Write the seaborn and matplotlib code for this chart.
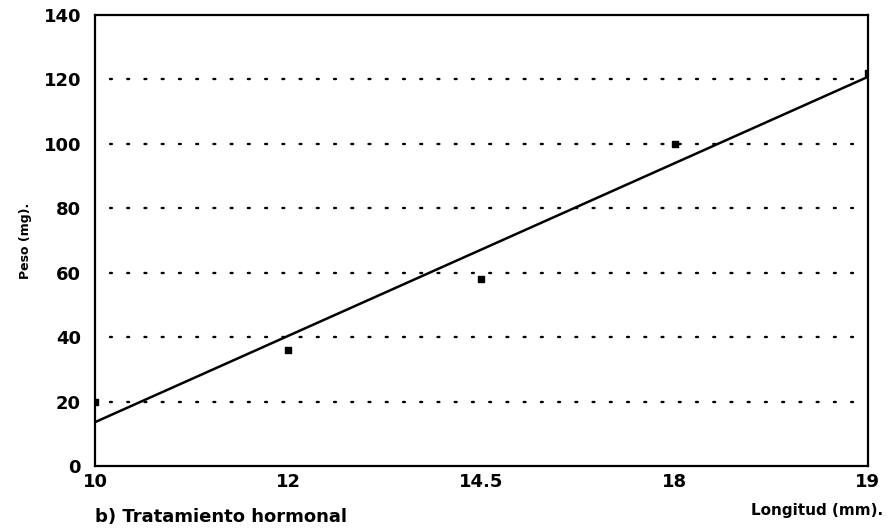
import numpy as np
import pandas as pd
import matplotlib
matplotlib.use("Agg")
import matplotlib.pyplot as plt
import seaborn as sns

# Longitud (mm) categories and measured weights (mg)
longitud = ["10", "12", "14.5", "18", "19"]
peso = [20, 36, 58, 100, 122]
y_ticks = [0, 20, 40, 60, 80, 100, 120, 140]

df = pd.DataFrame({"pos": np.arange(len(longitud)), "peso": peso})

sns.set_theme(style="white")
plt.rcParams["font.family"] = ["DejaVu Sans"]
plt.rcParams["text.color"] = "black"

fig = plt.figure(figsize=(8.92, 5.30), dpi=100)
ax = fig.add_axes([0.1065, 0.1208, 0.8665, 0.8509])

# dotted horizontal reference lines
for yv in y_ticks[1:-1]:
    ax.axhline(yv, xmin=0.02, xmax=0.985, color="black",
               linestyle=(0, (0.8, 6.5)), linewidth=1.7,
               dash_capstyle="round", zorder=1)

sns.regplot(data=df, x="pos", y="peso", ax=ax, ci=None, truncate=True,
            marker="s", color="black",
            scatter_kws={"s": 18, "zorder": 3, "alpha": 1.0},
            line_kws={"linewidth": 1.8, "zorder": 2})

ax.set_xlim(0, len(longitud) - 1)
ax.set_ylim(0, 140)
ax.set_xticks(range(len(longitud)))
ax.set_xticklabels(longitud)
ax.set_yticks(y_ticks)
ax.tick_params(axis="both", length=0, labelsize=13, colors="black")
ax.tick_params(axis="x", pad=5)
ax.tick_params(axis="y", pad=10)
for lab in ax.get_xticklabels() + ax.get_yticklabels():
    lab.set_fontweight("bold")

for side in ["left", "bottom", "right", "top"]:
    ax.spines[side].set_visible(True)
    ax.spines[side].set_color("black")
    ax.spines[side].set_linewidth(1.6)

ax.set_xlabel("")
ax.set_ylabel("Peso (mg).", fontsize=9, fontweight="bold", labelpad=8,
              color="black")

fig.text(0.99, 0.036, "Longitud (mm).", ha="right", va="center",
         fontsize=11, fontweight="bold", color="black")
fig.text(0.107, 0.025, "b) Tratamiento hormonal", ha="left", va="center",
         fontsize=13, fontweight="bold", color="black",
         family=["Liberation Sans Narrow", "DejaVu Sans"])

fig.savefig("out.png", dpi=100, facecolor="white")
